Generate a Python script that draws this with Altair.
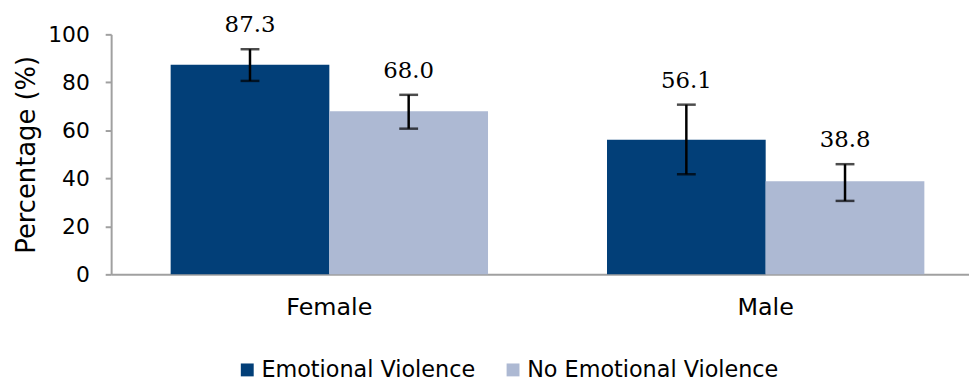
import altair as alt
import pandas as pd

genders = ["Female", "Female", "Male", "Male"]
groups = ["Emotional Violence", "No Emotional Violence", "Emotional Violence", "No Emotional Violence"]
values = [87.3, 68.0, 56.1, 38.8]
lower = [80.6, 60.7, 41.7, 30.6]
upper = [93.8, 74.8, 70.7, 45.9]
labels = ["87.3", "68.0", "56.1", "38.8"]
y_ticks = [0, 20, 40, 60, 80, 100]
series = ["Emotional Violence", "No Emotional Violence"]

df = pd.DataFrame({"gender": genders, "group": groups, "value": values,
                   "lower": lower, "upper": upper, "label": labels})

FONT = "DejaVu Sans"
SERIF = "DejaVu Serif"
colors = ["#023F78", "#ADB9D3"]

x = alt.X("gender:N", title=None,
          scale=alt.Scale(range=[0, 880], paddingInner=0.2727, paddingOuter=0.1364),
          axis=alt.Axis(labelAngle=0, labelFontSize=24, labelFont=FONT, labelColor="#000000",
                        domainColor="#A0A0A0", domainWidth=2, ticks=False, labelPadding=21))
xo = alt.XOffset("group:N", sort=series)
y = alt.Y("value:Q", title="Percentage (%)",
          scale=alt.Scale(domain=[0, 100]),
          axis=alt.Axis(values=y_ticks, grid=False, labelFontSize=22, labelFont=FONT,
                        labelColor="#000000", titleFontSize=26, titleFont=FONT,
                        titleColor="#000000", titleFontWeight="normal", titlePadding=8,
                        domainColor="#A0A0A0", domainWidth=2, tickColor="#A0A0A0",
                        tickSize=6, tickWidth=2, labelPadding=16))

base = alt.Chart(df)

bars = base.mark_bar().encode(
    x=x, xOffset=xo, y=y,
    color=alt.Color("group:N", scale=alt.Scale(domain=series, range=colors),
                    legend=alt.Legend(title=None, orient="none", legendX=126, legendY=327,
                                      direction="horizontal", symbolType="square", symbolSize=169,
                                      labelFontSize=22.5, labelFont=FONT, labelColor="#000000",
                                      labelLimit=0, columnPadding=26, labelOffset=3,
                                      symbolStrokeWidth=0))
)

rules = base.mark_rule(color="black", strokeWidth=2.5).encode(
    x="gender:N", xOffset=xo, y="lower:Q", y2="upper:Q")

cap_lo = base.mark_tick(color="black", thickness=2.5, size=19, orient="horizontal").encode(
    x="gender:N", xOffset=xo, y="lower:Q")
cap_hi = base.mark_tick(color="black", thickness=2.5, size=19, orient="horizontal").encode(
    x="gender:N", xOffset=xo, y="upper:Q")

text = base.mark_text(baseline="alphabetic", dy=-17, fontSize=23, font=SERIF, color="black").encode(
    x="gender:N", xOffset=xo, y="upper:Q", text="label:N")

chart = alt.layer(bars, rules, cap_lo, cap_hi, text).properties(
    width=865, height=242,
    autosize=alt.AutoSizeParams(type="none"),
    padding={"left": 104, "top": 25, "right": 0, "bottom": 108},
).configure_view(stroke=None)

chart.save("out.html", embed_options={"renderer": "svg", "actions": False})
